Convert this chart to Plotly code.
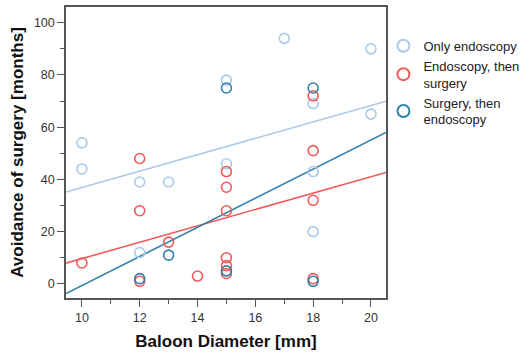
import numpy as np
import plotly.graph_objects as go

# Data
only_endo_x = [10, 10, 12, 12, 13, 15, 15, 17, 18, 18, 18, 20, 20]
only_endo_y = [54, 44, 39, 12, 39, 78, 46, 94, 69, 43, 20, 90, 65]

endo_surg_x = [10, 12, 12, 12, 13, 14, 15, 15, 15, 15, 15, 15, 18, 18, 18, 18]
endo_surg_y = [8, 48, 28, 1, 16, 3, 43, 37, 28, 10, 7, 4, 72, 51, 32, 2]

surg_endo_x = [12, 13, 15, 15, 18, 18]
surg_endo_y = [2, 11, 75, 5, 75, 1]

series_names = ["Only endoscopy", "Endoscopy, then<br>surgery", "Surgery, then<br>endoscopy"]
series_colors = ["#a9c9e9", "#f05a5a", "#2f80aa"]

x_range = [9.45, 20.52]
y_range = [-5.4, 106]
x_ticks = [10, 12, 14, 16, 18, 20]
y_ticks = [0, 20, 40, 60, 80, 100]

fig = go.Figure()

series = [(only_endo_x, only_endo_y), (endo_surg_x, endo_surg_y), (surg_endo_x, surg_endo_y)]

# regression lines (fit lines across full x range)
for (xs, ys), col in zip(series, series_colors):
    b, a = np.polyfit(np.array(xs, float), np.array(ys, float), 1)
    lx = np.array(x_range)
    fig.add_trace(go.Scatter(x=lx, y=a + b * lx, mode="lines",
                             line=dict(color=col, width=1.6),
                             showlegend=False, hoverinfo="skip"))

for (xs, ys), name, col in zip(series, series_names, series_colors):
    fig.add_trace(go.Scatter(x=xs, y=ys, mode="markers", name=name,
                             marker=dict(symbol="circle-open", size=10, color=col,
                                         line=dict(width=1.6, color=col))))

axis_common = dict(showline=True, linecolor="#555555", linewidth=1.5, mirror=True,
                   ticks="outside", ticklen=7, tickwidth=1.3, tickcolor="#555555",
                   showgrid=False, zeroline=False,
                   tickfont=dict(family="Liberation Sans, Arial", size=12.5, color="#333333"))

fig.update_xaxes(range=x_range, tickvals=x_ticks,
                 minor=dict(ticks="outside", ticklen=4, tickwidth=1.3, tickcolor="#555555", dtick=1, tick0=0, showgrid=False),
                 title=dict(text="<b>Baloon Diameter [mm]</b>", standoff=11,
                            font=dict(family="Liberation Sans, Arial", size=17, color="#111111")),
                 **axis_common)
fig.update_yaxes(range=y_range, tickvals=y_ticks,
                 minor=dict(ticks="outside", ticklen=4, tickwidth=1.3, tickcolor="#555555", dtick=10, tick0=0, showgrid=False),
                 title=dict(text="<b>Avoidance of surgery [months]</b>", standoff=6,
                            font=dict(family="Liberation Sans, Arial", size=17, color="#111111")),
                 **axis_common)

fig.update_layout(
    width=531, height=354,
    margin=dict(l=66, r=145, t=7, b=56, autoexpand=False),
    paper_bgcolor="white", plot_bgcolor="white",
    legend=dict(x=0.992, y=0.918, xanchor="left", yanchor="top",
                itemsizing="constant", tracegroupgap=0,
                font=dict(family="Liberation Sans, Arial", size=13, color="#222222"),
                bgcolor="rgba(0,0,0,0)"),
)

fig.write_html("out.html")
